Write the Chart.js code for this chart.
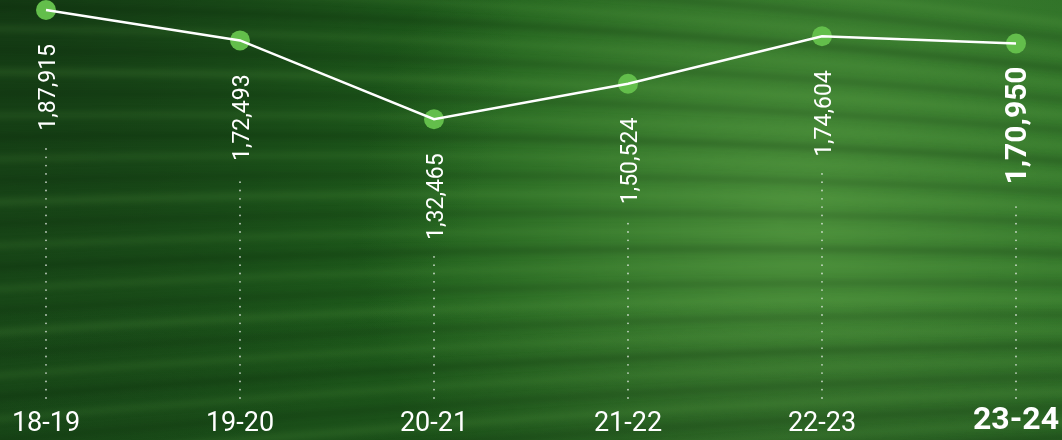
<!DOCTYPE html>
<html>
<head>
<meta charset="utf-8">
<script src="https://cdn.jsdelivr.net/npm/chart.js@4.4.1/dist/chart.umd.min.js"></script>
<style>
  html, body { margin: 0; padding: 0; background: #1e561b; }
  #wrap { width: 1062px; height: 440px; position: relative; }
</style>
</head>
<body>
<div id="wrap"><canvas id="c"></canvas></div>
<script>
// ---- data ----
const categories = ['18-19', '19-20', '20-21', '21-22', '22-23', '23-24'];
const admissions = [187915, 172493, 132465, 150524, 174604, 170950];
const valueLabels = ['1,87,915', '1,72,493', '1,32,465', '1,50,524', '1,74,604', '1,70,950'];
const highlightIndex = 5;

const FONT = 'Roboto, "Noto Sans", sans-serif';

function drawBackground(ctx, w, h) {
  ctx.save();
  let g = ctx.createLinearGradient(0, 0, w, 0);
  g.addColorStop(0, '#1b511a');
  g.addColorStop(0.5, '#20601c');
  g.addColorStop(1, '#2a6c24');
  ctx.fillStyle = g;
  ctx.fillRect(0, 0, w, h);

  let r = ctx.createRadialGradient(800, 220, 20, 800, 220, 440);
  r.addColorStop(0, 'rgba(80,148,62,0.85)');
  r.addColorStop(1, 'rgba(80,148,62,0)');
  ctx.fillStyle = r;
  ctx.fillRect(0, 0, w, h);

  r = ctx.createRadialGradient(0, 0, 10, 0, 0, 520);
  r.addColorStop(0, 'rgba(18,52,18,0.8)');
  r.addColorStop(1, 'rgba(18,52,18,0)');
  ctx.fillStyle = r;
  ctx.fillRect(0, 0, w, h);

  g = ctx.createLinearGradient(0, 300, 0, h);
  g.addColorStop(0, 'rgba(20,55,20,0)');
  g.addColorStop(1, 'rgba(20,55,20,0.35)');
  ctx.fillStyle = g;
  ctx.fillRect(0, 300, w, h - 300);

  // streaks
  ctx.filter = 'blur(3px)';
  for (let i = 0; i < 48; i++) {
    const yl = -60 + i * 22;
    const yr = 30 + i * 15;
    const ym = (yl + yr) / 2 - 25;
    ctx.beginPath();
    ctx.moveTo(-60, yl);
    ctx.quadraticCurveTo(w * 0.55, ym, w + 60, yr);
    ctx.lineWidth = (i % 3 === 0) ? 7 : 5;
    ctx.strokeStyle = (i % 2 === 0) ? 'rgba(105,180,80,0.18)' : 'rgba(8,35,8,0.25)';
    ctx.stroke();
  }
  ctx.filter = 'none';
  ctx.restore();
}

const bgPlugin = {
  id: 'bg',
  beforeDraw(chart) {
    drawBackground(chart.ctx, chart.width, chart.height);
  }
};

function labelFont(i) {
  return i === highlightIndex ? 'bold 30px ' + FONT : '23px ' + FONT;
}

const labelPlugin = {
  id: 'vlabels',
  beforeDatasetsDraw(chart) {
    const ctx = chart.ctx;
    const meta = chart.getDatasetMeta(0);
    const bottom = chart.chartArea.bottom - 2;
    ctx.save();
    ctx.fillStyle = 'rgba(235,240,235,0.8)';
    meta.data.forEach((pt, i) => {
      ctx.font = labelFont(i);
      const gap = i === highlightIndex ? 23 : 34;
      const end = pt.y + gap + ctx.measureText(valueLabels[i]).width + 15;
      for (let y = bottom; y >= end; y -= 8.3) {
        ctx.beginPath();
        ctx.arc(pt.x, y, 0.9, 0, Math.PI * 2);
        ctx.fill();
      }
    });
    ctx.restore();
  },
  afterDatasetsDraw(chart) {
    const ctx = chart.ctx;
    const meta = chart.getDatasetMeta(0);
    ctx.save();
    ctx.fillStyle = '#ffffff';
    meta.data.forEach((pt, i) => {
      const gap = i === highlightIndex ? 23 : 34;
      ctx.save();
      ctx.translate(pt.x + (i === highlightIndex ? 10 : 9), pt.y + gap);
      ctx.rotate(-Math.PI / 2);
      ctx.font = labelFont(i);
      ctx.textAlign = 'right';
      ctx.textBaseline = 'alphabetic';
      ctx.fillText(valueLabels[i], 0, 0);
      ctx.restore();
    });
    ctx.restore();
  }
};

new Chart(document.getElementById('c'), {
  type: 'line',
  data: {
    labels: categories,
    datasets: [
      {
        label: 'points',
        data: admissions,
        showLine: false,
        pointRadius: 10,
        pointHoverRadius: 10,
        pointBackgroundColor: '#63be4b',
        pointBorderWidth: 0,
        order: 2,
        clip: false
      },
      {
        label: 'line',
        data: admissions,
        borderColor: '#ffffff',
        borderWidth: 2.5,
        pointRadius: 0,
        tension: 0,
        order: 1,
        clip: false
      }
    ]
  },
  options: {
    responsive: true,
    maintainAspectRatio: false,
    animation: false,
    events: [],
    layout: { autoPadding: false, padding: { left: 46, right: 46, top: 0, bottom: 0 } },
    plugins: { legend: { display: false }, tooltip: { enabled: false } },
    scales: {
      x: {
        grid: { display: false, drawTicks: false },
        border: { display: false },
        afterFit(scale) {
          scale.paddingLeft = 0;
          scale.paddingRight = 0;
          scale.height = 40;
        },
        ticks: {
          color: '#ffffff',
          padding: 9,
          maxRotation: 0,
          autoSkip: false,
          font: (c) => c.index === highlightIndex
            ? { family: FONT, size: 32, weight: 'bold', lineHeight: 0.75 }
            : { family: FONT, size: 27, weight: 'normal', lineHeight: 1.15 }
        }
      },
      y: {
        display: false,
        min: -10000,
        max: 193000
      }
    }
  },
  plugins: [bgPlugin, labelPlugin]
});
</script>
</body>
</html>
